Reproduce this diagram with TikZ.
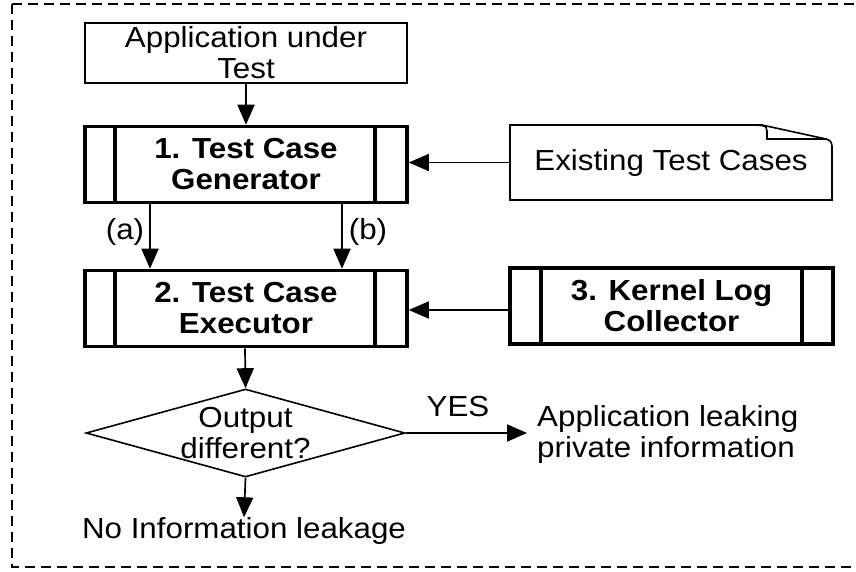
\documentclass[tikz,border=0pt]{standalone}
\usepackage{fontspec}
\setmainfont[FakeStretch=1.08]{Liberation Sans}
\usetikzlibrary{shapes.geometric,arrows.meta}
\begin{document}
\begin{tikzpicture}[x=1pt,y=-1pt,
  every node/.style={font=\fontsize{29}{31}\selectfont, inner sep=0pt},
  plainbox/.style={draw, line width=1.6pt, minimum width=322pt, minimum height=60pt, align=center},
  procbox/.style={draw, line width=3.6pt, minimum width=322pt, minimum height=76pt, align=center, font=\fontsize{29}{31}\selectfont\bfseries},
  arr/.style={line width=1.7pt, -{Triangle[length=20pt,width=17pt]}},
  lbl/.style={align=center}
]
\useasboundingbox (0,0) rectangle (856,571);
% dashed frame
\draw[line width=1.5pt, dash pattern=on 10pt off 6pt] (12,4) -- (866,4) (12,4) -- (12,567) -- (866,567);

% Application under test
\node[plainbox] (app) at (246,53) {Application under\\Test};

% 1. Test case generator
\node[procbox] (gen) at (246,164.5) {1. Test Case\\Generator};
\draw[line width=3.6pt] ([xshift=32pt]gen.north west) -- ([xshift=32pt]gen.south west);
\draw[line width=3.6pt] ([xshift=-34pt]gen.north east) -- ([xshift=-34pt]gen.south east);

% 2. Test case executor
\node[procbox] (exe) at (246,308.5) {2. Test Case\\Executor};
\draw[line width=3.6pt] ([xshift=32pt]exe.north west) -- ([xshift=32pt]exe.south west);
\draw[line width=3.6pt] ([xshift=-34pt]exe.north east) -- ([xshift=-34pt]exe.south east);

% 3. Kernel log collector
\node[procbox, minimum width=323pt] (klc) at (671.5,306) {3. Kernel Log\\Collector};
\draw[line width=3.6pt] ([xshift=33pt]klc.north west) -- ([xshift=33pt]klc.south west);
\draw[line width=3.6pt] ([xshift=-33pt]klc.north east) -- ([xshift=-33pt]klc.south east);

% Existing test cases (note with folded corner)
\draw[line width=1.6pt, fill=white]
  (510,125) -- (762,125) -- (826,139) .. controls (831,141) .. (832,146) -- (832,200) -- (510,200) -- cycle;
\draw[line width=1.6pt] (740,125) .. controls (766,125) .. (767,131) -- (767,139) -- (827,139);
\node[lbl] (etc) at (671,162.5) {Existing Test Cases};
\coordinate (etcw) at (510,162.5);

% decision diamond
\node[draw, diamond, line width=1.6pt, minimum width=319pt, minimum height=88pt] (dec) at (245.5,433) {};
\node[lbl] (dect) at (245.5,433) {Output\\different?};

% outcomes
\node[lbl, anchor=west, align=left] (leak) at (537,434) {Application leaking\\private information};
\node[lbl] (noleak) at (244,531) {No Information leakage};
\node[lbl] (yes) at (458,407) {YES};
\node[lbl] (la) at (125,232) {(a)};
\node[lbl] (lb) at (368,232) {(b)};

% connectors
\draw[arr] (app.south) -- (gen.north);
\draw[arr] (etcw) -- (gen.east |- etcw);
\draw[arr] ([xshift=-96pt]gen.south) -- ([xshift=-96pt]exe.north);
\draw[arr] ([xshift=96pt]gen.south) -- ([xshift=96pt]exe.north);
\draw[arr] (klc.west |- 0,310) -- (exe.east |- 0,310);
\draw[arr] ([xshift=-1pt]exe.south) -- (dec.north);
\draw[arr] (dec.east) -- ([xshift=-10pt]leak.west |- dec.east);
\draw[arr] (dec.south) -- (noleak.north);
\end{tikzpicture}
\end{document}
